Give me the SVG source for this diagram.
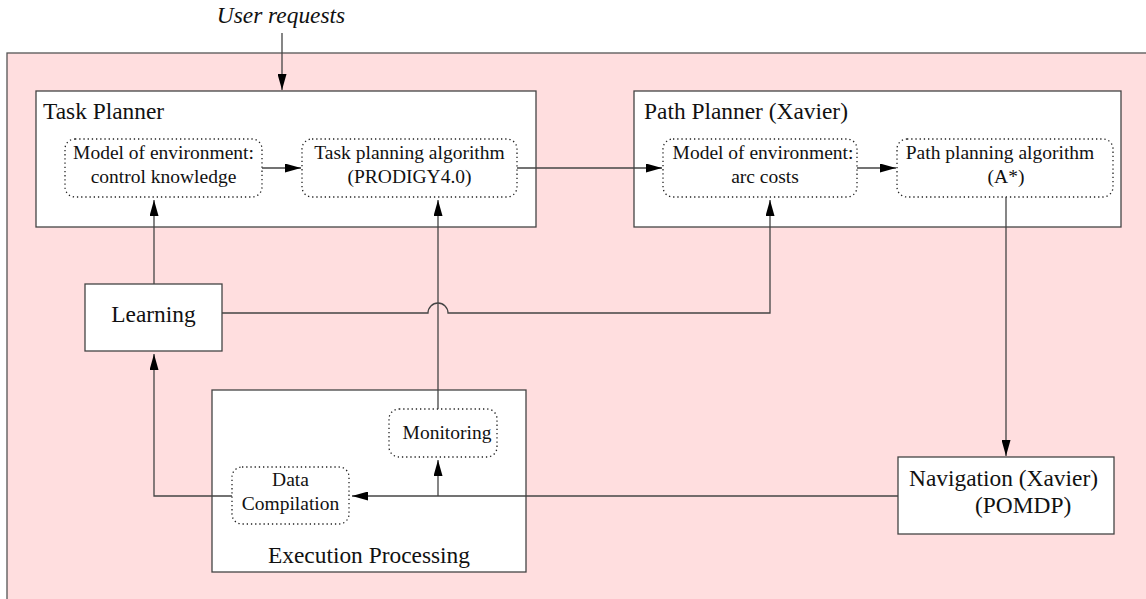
<svg xmlns="http://www.w3.org/2000/svg" width="1146" height="599" viewBox="0 0 1146 599">
  <style>
    .frame { fill: #ffdedf; stroke: #555; stroke-width: 1.3; }
    .box { fill: #ffffff; stroke: #444; stroke-width: 1.3; }
    .sub { fill: none; stroke: #222; stroke-width: 1.3; stroke-dasharray: 1.3 2.9; }
    .wire { fill: none; stroke: #444; stroke-width: 1.3; }
    .big { font-family: "Liberation Serif", "Times New Roman", serif; font-size: 23.4px; fill: #111; }
    .small { font-family: "Liberation Serif", "Times New Roman", serif; font-size: 19.5px; fill: #111; }
    .mid { text-anchor: middle; }
  </style>
  <defs>
    <marker id="arrow" viewBox="0 0 16 9" refX="16" refY="4.5" markerWidth="16" markerHeight="9" markerUnits="userSpaceOnUse" orient="auto">
      <path d="M0,0 L16,4.5 L0,9 Z" fill="#000"/>
    </marker>
  </defs>

  <!-- background frame -->
  <rect class="frame" x="7" y="53" width="1150" height="560"/>

  <text class="big" x="281" y="23" text-anchor="middle" font-style="italic">User requests</text>

  <g id="task-planner">
    <rect class="box" x="36" y="91" width="500" height="136"/>
    <text class="big" x="43" y="119">Task Planner</text>
  </g>
  <g id="task-model">
    <rect class="sub" x="65" y="139" width="197" height="58" rx="10"/>
    <text class="small mid" x="163.5" y="159">Model of environment:</text>
    <text class="small mid" x="163.5" y="183">control knowledge</text>
  </g>
  <g id="task-algorithm">
    <rect class="sub" x="302" y="139" width="215" height="58" rx="10"/>
    <text class="small mid" x="409.5" y="159">Task planning algorithm</text>
    <text class="small mid" x="409.5" y="183">(PRODIGY4.0)</text>
  </g>

  <g id="path-planner">
    <rect class="box" x="634" y="91" width="487" height="136"/>
    <text class="big" x="644" y="119">Path Planner (Xavier)</text>
  </g>
  <g id="path-model">
    <rect class="sub" x="663" y="139" width="194" height="58" rx="10"/>
    <text class="small mid" x="763" y="159">Model of environment:</text>
    <text class="small mid" x="765" y="183">arc costs</text>
  </g>
  <g id="path-algorithm">
    <rect class="sub" x="897" y="139" width="216" height="58" rx="10"/>
    <text class="small mid" x="1000" y="159">Path planning algorithm</text>
    <text class="small mid" x="1006" y="183">(A*)</text>
  </g>

  <g id="learning">
    <rect class="box" x="85" y="284" width="137" height="67"/>
    <text class="big mid" x="153.5" y="322">Learning</text>
  </g>

  <g id="execution-processing">
    <rect class="box" x="212" y="390" width="314" height="182"/>
    <text class="big mid" x="369" y="563">Execution Processing</text>
  </g>
  <g id="monitoring">
    <rect class="sub" x="389" y="409" width="108" height="48" rx="10"/>
    <text class="small mid" x="447" y="439">Monitoring</text>
  </g>
  <g id="data-compilation">
    <rect class="sub" x="232" y="467" width="117" height="57" rx="10"/>
    <text class="small mid" x="290.5" y="486">Data</text>
    <text class="small mid" x="290.5" y="510">Compilation</text>
  </g>

  <g id="navigation">
    <rect class="box" x="898" y="457" width="216" height="77"/>
    <text class="big" x="909" y="486">Navigation (Xavier)</text>
    <text class="big" x="975" y="513">(POMDP)</text>
  </g>

  <g id="connectors">
    <line class="wire" x1="282" y1="33" x2="282" y2="90" marker-end="url(#arrow)"/>
    <line class="wire" x1="262" y1="168" x2="301" y2="168" marker-end="url(#arrow)"/>
    <line class="wire" x1="517" y1="168" x2="662" y2="168" marker-end="url(#arrow)"/>
    <line class="wire" x1="857" y1="168" x2="896" y2="168" marker-end="url(#arrow)"/>
    <line class="wire" x1="154" y1="284" x2="154" y2="200" marker-end="url(#arrow)"/>
    <path class="wire" d="M222,313 H428 A10,10 0 0 1 448,313 H770 V200" marker-end="url(#arrow)"/>
    <line class="wire" x1="438" y1="409" x2="438" y2="200" marker-end="url(#arrow)"/>
    <line class="wire" x1="1006" y1="197" x2="1006" y2="456" marker-end="url(#arrow)"/>
    <line class="wire" x1="898" y1="496" x2="352" y2="496" marker-end="url(#arrow)"/>
    <line class="wire" x1="438" y1="496" x2="438" y2="460" marker-end="url(#arrow)"/>
    <path class="wire" d="M232,496 H154 V354" marker-end="url(#arrow)"/>
  </g>
</svg>
